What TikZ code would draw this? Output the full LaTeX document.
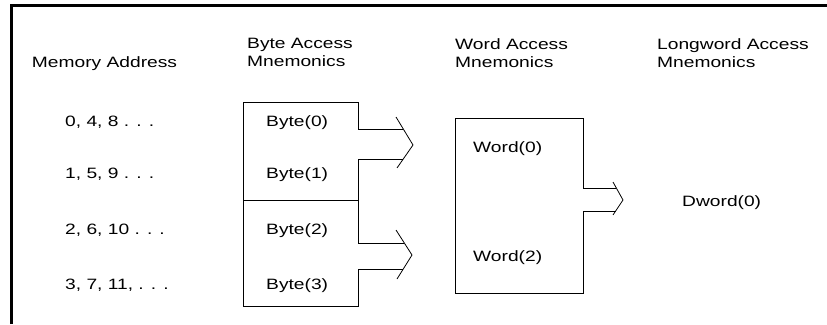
\documentclass[tikz,border=0pt]{standalone}
\usepackage{fontspec}
\setmainfont{Liberation Sans}[FakeStretch=1.28]
\usepackage{tikz}
\usetikzlibrary{positioning}

\begin{document}
\begin{tikzpicture}
    [x=1pt, y=-1pt,
      lbl/.style={font=\fontsize{15pt}{18pt}\selectfont, inner sep=0pt},
      head/.style={lbl, align=left, anchor=north west},
      cell/.style={lbl, anchor=base west},
      boxline/.style={line width=0.8pt},
      frame/.style={line width=3pt}]

    \useasboundingbox (0,0) rectangle (827,324);
    \draw[frame] (11,324) -- (11,5) -- (827,5);

    % column heads
    \node (addrhead) at (104.5,67) [lbl, anchor=base] {Memory Address};
    \node (bytehead) at (247,38) [head] {Byte Access\\Mnemonics};
    \node (wordhead) at (455,38) [head] {Word Access\\Mnemonics};
    \node (dwordhead) at (657,38) [head] {Longword Access\\Mnemonics};

    % addresses
    \node (addr0) at (65,126) [cell] {0, 4, 8 . . .};
    \node (addr1) at (65,178) [cell] {1, 5, 9 . . .};
    \node (addr2) at (65,234) [cell] {2, 6, 10 . . .};
    \node (addr3) at (65,289) [cell] {3, 7, 11, . . .};

    % bytes
    \node (byte0) at (266,126) [cell] {Byte(0)};
    \node (byte1) at (266,178) [cell] {Byte(1)};
    \node (byte2) at (266,234) [cell] {Byte(2)};
    \node (byte3) at (266,289) [cell] {Byte(3)};
    \draw[boxline] (403,129) -- (358,129) -- (358,102) -- (243,102) -- (243,306)
        -- (358,306) -- (358,269) -- (403,269);
    \draw[boxline] (403,159) -- (358,159) -- (358,243) -- (404,243);
    \draw[boxline] (243,200) -- (358,200);
    \draw[boxline] (396,117) -- (413,145) -- (397,168);
    \draw[boxline] (396,230) -- (412,255) -- (397,279);

    % words
    \node (word0) at (473,152) [cell] {Word(0)};
    \node (word2) at (473,261) [cell] {Word(2)};
    \draw[boxline] (616,188) -- (583,188) -- (583,118) -- (455,118) -- (455,293)
        -- (583,293) -- (583,211) -- (616,211);
    \draw[boxline] (613,182) -- (623,200) -- (613,215);

    % longword
    \node (dword0) at (682,206) [cell] {Dword(0)};
\end{tikzpicture}
\end{document}
